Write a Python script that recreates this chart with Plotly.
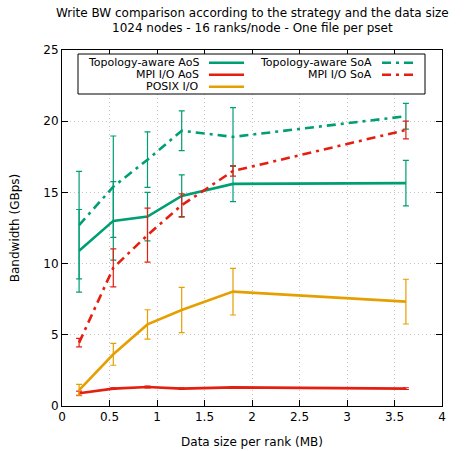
import plotly.graph_objects as go

# ---- data ----
data_size = [0.18, 0.54, 0.9, 1.26, 1.8, 3.62]

topo_aos = [10.9, 13.0, 13.3, 14.75, 15.6, 15.65]
topo_aos_err = [2.9, 2.75, 1.7, 1.48, 1.25, 1.6]

mpi_aos = [0.9, 1.22, 1.33, 1.22, 1.31, 1.22]
mpi_aos_err = [0.15, 0.06, 0.06, 0.06, 0.06, 0.06]

posix = [1.12, 3.63, 5.73, 6.74, 8.03, 7.33]
posix_err = [0.4, 0.77, 1.03, 1.59, 1.64, 1.57]

topo_soa = [12.7, 15.4, 17.3, 19.33, 18.9, 20.35]
topo_soa_err = [3.77, 3.56, 1.95, 1.4, 2.05, 0.9]

mpi_soa = [4.45, 9.7, 12.0, 14.1, 16.5, 19.38]
mpi_soa_err = [0.3, 1.33, 1.9, 0.8, 0.36, 0.62]

x_ticks = [0, 0.5, 1, 1.5, 2, 2.5, 3, 3.5, 4]
x_tick_labels = ["0", "0.5", "1", "1.5", "2", "2.5", "3", "3.5", "4"]
y_ticks = [0, 5, 10, 15, 20, 25]

names = ["Topology-aware AoS", "MPI I/O AoS", "POSIX I/O",
         "Topology-aware SoA", "MPI I/O SoA"]
title_lines = ["Write BW comparison according to the strategy and the data size",
               "1024 nodes - 16 ranks/node - One file per pset"]

GREEN = "#009e73"
RED = "#e51e10"
ORANGE = "#e69f00"
DASHDOT = "9px,5px,3px,5px"
FONT = "DejaVu Sans"

series = [
    (names[0], topo_aos, topo_aos_err, GREEN, "solid"),
    (names[1], mpi_aos, mpi_aos_err, RED, "solid"),
    (names[2], posix, posix_err, ORANGE, "solid"),
    (names[3], topo_soa, topo_soa_err, GREEN, DASHDOT),
    (names[4], mpi_soa, mpi_soa_err, RED, DASHDOT),
]

fig = go.Figure()
for name, ys, errs, color, dash in series:
    fig.add_trace(go.Scatter(
        x=data_size, y=ys, name=name, mode="lines",
        line=dict(color=color, width=2.6, dash=dash),
        error_y=dict(type="data", array=errs, visible=True,
                     color=color, thickness=1.2, width=3),
        showlegend=False,
    ))

# ---- plot area geometry (pixels) ----
W, H = 464, 451
L, R, T, B = 62, 22, 50, 45
PW, PH = W - L - R, H - T - B


def px(x):
    return (x - L) / PW


def py(y):
    return (H - B - y) / PH


shapes = []
annotations = []

# title
for line, yy in zip(title_lines, [13, 28]):
    annotations.append(dict(xref="paper", yref="paper", x=px(252), y=py(yy),
                            text=line, showarrow=False, xanchor="center",
                            yanchor="middle",
                            font=dict(family=FONT, size=12, color="black")))

# legend box
shapes.append(dict(type="rect", xref="paper", yref="paper",
                   x0=px(78), x1=px(425), y0=py(94), y1=py(54),
                   line=dict(color="black", width=1), fillcolor="white",
                   layer="above"))

legend_rows = [62.7, 74.7, 86.7]
legend_layout = [
    (0, 0, 201, 209, 244),
    (1, 1, 201, 209, 244),
    (2, 2, 201, 209, 244),
    (3, 0, 374, 382, 413),
    (4, 1, 374, 382, 413),
]
for idx, row, tx, s0, s1 in legend_layout:
    name, ys, errs, color, dash = series[idx]
    yy = py(legend_rows[row])
    annotations.append(dict(xref="paper", yref="paper", x=px(tx), y=yy,
                            text=name, showarrow=False, xanchor="right",
                            yanchor="middle",
                            font=dict(family=FONT, size=11, color="black")))
    shapes.append(dict(type="line", xref="paper", yref="paper",
                       x0=px(s0), x1=px(s1), y0=yy, y1=yy,
                       line=dict(color=color, width=2.6, dash=dash),
                       layer="above"))

GRID = "#c4c4c4"
fig.update_layout(
    width=W, height=H,
    margin=dict(l=L, r=R, t=T, b=B, autoexpand=False),
    paper_bgcolor="white", plot_bgcolor="white",
    font=dict(family=FONT, size=12, color="black"),
    shapes=shapes, annotations=annotations,
    xaxis=dict(range=[0, 4], tickvals=x_ticks, ticktext=x_tick_labels,
               ticks="inside", ticklen=6, tickcolor="black", mirror="ticks",
               showline=True, linecolor="black", linewidth=1,
               showgrid=True, gridcolor=GRID, griddash="1px,3px", gridwidth=1,
               zeroline=False, automargin=False,
               title=dict(text="Data size per rank (MB)", standoff=14,
                          font=dict(family=FONT, size=12))),
    yaxis=dict(range=[0, 25], tickvals=y_ticks,
               ticks="inside", ticklen=6, tickcolor="black", mirror="ticks",
               showline=True, linecolor="black", linewidth=1,
               showgrid=True, gridcolor=GRID, griddash="1px,3px", gridwidth=1,
               zeroline=False, automargin=False,
               title=dict(text="Bandwidth (GBps)", standoff=21,
                          font=dict(family=FONT, size=12))),
)

fig.write_html("out.html",
               config={"displayModeBar": False},
               post_script="document.body.style.margin='0px';"
                           "document.body.style.padding='0px';")
